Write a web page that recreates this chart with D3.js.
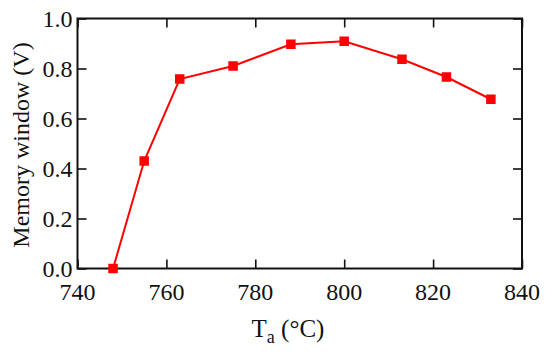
<!DOCTYPE html>
<html><head><meta charset="utf-8">
<script src="https://cdn.jsdelivr.net/npm/d3@7"></script>
<style>
html,body{margin:0;padding:0;background:#fff;}
text{font-family:"Liberation Serif","Times New Roman",serif;fill:#111;}
</style></head>
<body>
<svg id="c" width="550" height="355"></svg>
<script>
const temps = [748, 755, 763, 775, 788, 800, 813, 823, 833];
const windowV = [0.0, 0.43, 0.758, 0.81, 0.897, 0.909, 0.837, 0.766, 0.677];
const xTicks = [740, 760, 780, 800, 820, 840];
const yTicks = [0.0, 0.2, 0.4, 0.6, 0.8, 1.0];

const svg = d3.select("#c");
const L = 77.5, R = 522, T = 18.5, B = 268.5;
const x = d3.scaleLinear().domain([740, 840]).range([L, R]);
const y = d3.scaleLinear().domain([0, 1]).range([B, T]);
const tick = 9;
const fs = 24;

const g = svg.append("g");
const inner = [
  d3.axisBottom(x).tickValues(xTicks).tickSize(-tick).tickFormat(""),
  d3.axisTop(x).tickValues(xTicks).tickSize(-tick).tickFormat(""),
  d3.axisLeft(y).tickValues(yTicks).tickSize(-tick).tickFormat(""),
  d3.axisRight(y).tickValues(yTicks).tickSize(-tick).tickFormat("")
];
const tr = [`translate(0,${B})`, `translate(0,${T})`, `translate(${L},0)`, `translate(${R},0)`];
inner.forEach((a, i) => {
  const ga = g.append("g").attr("transform", tr[i]).call(a);
  ga.selectAll("path.domain").remove();
  ga.selectAll("line").attr("stroke", "#111").attr("stroke-width", 1.6);
});
svg.append("rect").attr("x", L).attr("y", T).attr("width", R - L).attr("height", B - T)
  .attr("fill", "none").attr("stroke", "#111").attr("stroke-width", 2);

svg.append("g").selectAll("text").data(xTicks).join("text")
  .attr("x", d => x(d)).attr("y", B + 31)
  .attr("text-anchor", "middle").attr("font-size", fs).text(d => d);
svg.append("g").selectAll("text").data(yTicks).join("text")
  .attr("x", L - 5).attr("y", d => y(d) + 8)
  .attr("text-anchor", "end").attr("font-size", fs).text(d => d.toFixed(1));

const xl = svg.append("text").attr("x", 288).attr("y", 336.5).attr("text-anchor", "middle").attr("font-size", 25);
xl.append("tspan").text("T");
xl.append("tspan").attr("font-size", 18).attr("dy", 6).text("a");
xl.append("tspan").attr("dy", -6).text(" (°C)");

svg.append("text").attr("transform", "translate(29,145) rotate(-90)")
  .attr("text-anchor", "middle").attr("font-size", 24).text("Memory window (V)");

const line = d3.line().x((d, i) => x(temps[i])).y(d => y(d));
svg.append("path").datum(windowV).attr("d", line)
  .attr("fill", "none").attr("stroke", "#ff0000").attr("stroke-width", 2);
const ms = 9.5;
svg.append("g").selectAll("rect").data(windowV).join("rect")
  .attr("x", (d, i) => x(temps[i]) - ms / 2).attr("y", d => y(d) - ms / 2)
  .attr("width", ms).attr("height", ms).attr("fill", "#ff0000");
</script>
</body></html>
